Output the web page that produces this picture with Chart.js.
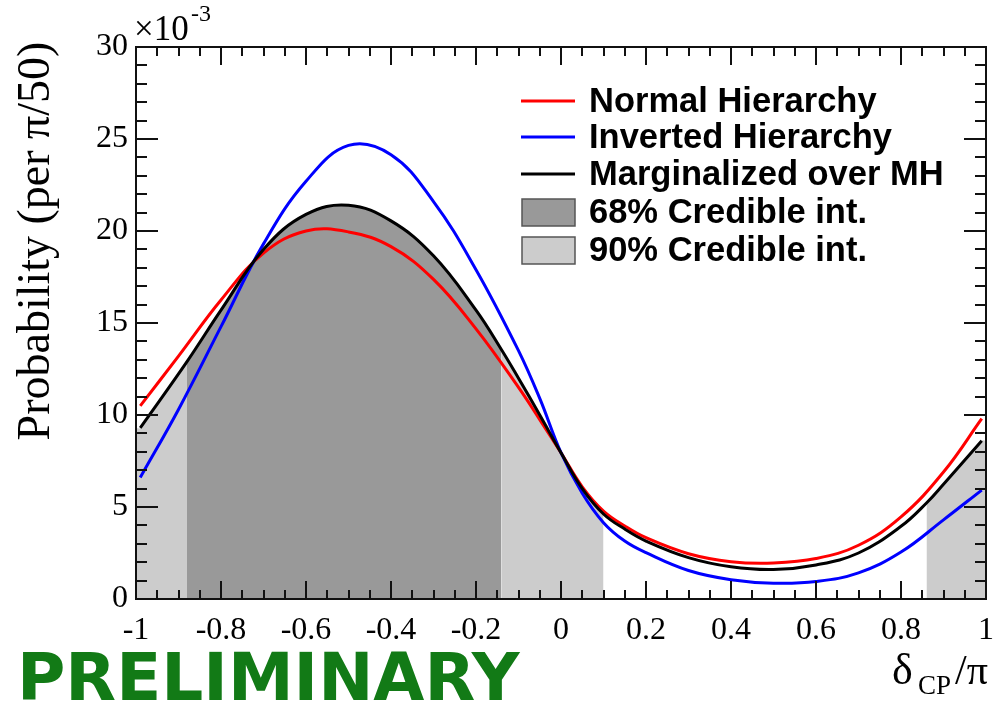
<!DOCTYPE html>
<html><head><meta charset="utf-8">
<script src="https://cdn.jsdelivr.net/npm/chart.js@4.4.0/dist/chart.umd.min.js"></script>
<style>html,body{margin:0;padding:0;background:#fff;} #wrap{width:1006px;height:708px;position:relative;}</style>
</head><body><div id="wrap"><canvas id="c" width="1006" height="708"></canvas></div>
<script>
// Probability (per pi/50), in units of 1e-3
const nhX = [-0.99,-0.9,-0.8,-0.7,-0.6,-0.5,-0.4,-0.3,-0.2,-0.1,-0.05,0,0.05,0.1,0.15,0.2,0.3,0.4,0.5,0.6,0.7,0.8,0.9,0.99];
const nhY = [10.5,13.2,16.25,18.8,20.0,19.95,19.15,17.37,14.68,11.5,9.75,7.95,6.1,4.78,3.97,3.33,2.46,2.03,1.96,2.2,2.92,4.46,6.9,9.8];
const ihX = [-0.99,-0.9,-0.8,-0.7,-0.6,-0.5,-0.4,-0.3,-0.2,-0.1,-0.05,0,0.05,0.1,0.15,0.2,0.3,0.4,0.5,0.6,0.7,0.8,0.9,0.99];
const ihY = [6.6,10.3,14.8,19.3,22.7,24.65,24.15,21.6,17.9,13.5,10.9,7.95,5.75,4.15,3.15,2.52,1.55,1.05,0.86,0.95,1.42,2.55,4.3,5.92];
const mhX = [-0.99,-0.88,-0.8,-0.7,-0.6,-0.5,-0.4,-0.3,-0.2,-0.14,-0.1,-0.05,0,0.05,0.1,0.15,0.2,0.3,0.4,0.5,0.6,0.7,0.8,0.86,0.9,0.99];
const mhY = [9.3,12.9,15.7,19.0,20.9,21.4,20.55,18.65,15.7,13.55,12.0,10.0,7.95,6.0,4.62,3.8,3.15,2.25,1.75,1.6,1.85,2.5,3.95,5.22,6.24,8.6];
const cred68 = [[-0.88,-0.14]];
const cred90 = [[-1,-0.88],[-0.14,0.10],[0.86,1]];
const xTickValues = [-1,-0.8,-0.6,-0.4,-0.2,0,0.2,0.4,0.6,0.8,1];
const xTickLabels = ['-1','-0.8','-0.6','-0.4','-0.2','0','0.2','0.4','0.6','0.8','1'];
const yTickValues = [0,5,10,15,20,25,30];
const yTickLabels = ['0','5','10','15','20','25','30'];
const seriesLabels = ['Normal Hierarchy','Inverted Hierarchy','Marginalized over MH'];
const bandLabels = ['68% Credible int.','90% Credible int.'];

const pts = (xs, ys) => xs.map((x, i) => ({x: x, y: ys[i]}));
const mhPts = pts(mhX, mhY);
const DARK = '#999999', LIGHT = '#cccccc';
const inAny = (ranges, v) => ranges.some(r => v >= r[0] && v <= r[1]);
const bandColor = c => {
  const m = (c.p0.parsed.x + c.p1.parsed.x) / 2;
  if (inAny(cred68, m)) return DARK;
  if (inAny(cred90, m)) return LIGHT;
  return 'rgba(0,0,0,0)';
};
// band fill: the marginalized curve filled to zero, coloured by credible interval
const bandData = [{x: -1, y: mhY[0]}, ...mhPts, {x: 1, y: mhY[mhY.length - 1]}];
const lineDs = (lbl, data, col, ord) => ({
  label: lbl, data: data, borderColor: col, borderWidth: 3, pointRadius: 0,
  fill: false, tension: 0.4, order: ord
});

const datasets = [
  { data: bandData, borderColor: 'rgba(0,0,0,0)', borderWidth: 0, backgroundColor: 'rgba(0,0,0,0)',
    fill: 'origin', pointRadius: 0, tension: 0.4, order: 10,
    segment: { backgroundColor: bandColor, borderColor: () => 'rgba(0,0,0,0)' } },
  lineDs(seriesLabels[0], pts(nhX, nhY), '#ff0000', 3),
  lineDs(seriesLabels[1], pts(ihX, ihY), '#0000ff', 2),
  lineDs(seriesLabels[2], mhPts, '#000000', 1)
];

const frameTicks = {
  id: 'frameTicks',
  afterDatasetsDraw(chart) {
    const {ctx, chartArea: a, scales: {x, y}} = chart;
    ctx.save();
    ctx.strokeStyle = '#111'; ctx.lineWidth = 2;
    const ln = (x1, y1, x2, y2) => { ctx.beginPath(); ctx.moveTo(x1, y1); ctx.lineTo(x2, y2); ctx.stroke(); };
    for (let i = 0; i <= 40; i++) {
      const px = Math.round(x.getPixelForValue(-1 + i * 0.05));
      const L = (i % 4 === 0) ? 18 : 9;
      ln(px, a.bottom, px, a.bottom - L);
      ln(px, a.top, px, a.top + L);
    }
    for (let i = 0; i <= 30; i++) {
      const py = Math.round(y.getPixelForValue(i));
      const L = (i % 5 === 0) ? 22 : 11;
      ln(a.left, py, a.left + L, py);
      ln(a.right, py, a.right - L, py);
    }
    ctx.strokeRect(a.left, a.top, a.right - a.left, a.bottom - a.top);
    ctx.restore();
  },
  afterDraw(chart) {
    const {ctx} = chart;
    ctx.save();
    // legend
    const rows = [101, 137, 174, 212, 250];
    const cols = ['#ff0000', '#0000ff', '#000000'];
    ctx.font = 'bold 34.5px "Liberation Sans", Arial, sans-serif';
    ctx.textBaseline = 'middle'; ctx.textAlign = 'left';
    for (let i = 0; i < 3; i++) {
      ctx.strokeStyle = cols[i]; ctx.lineWidth = 3;
      ctx.beginPath(); ctx.moveTo(521, rows[i]); ctx.lineTo(575, rows[i]); ctx.stroke();
      ctx.fillStyle = '#000'; ctx.fillText(seriesLabels[i], 589, rows[i] + 1);
    }
    const bcols = [DARK, LIGHT];
    for (let i = 0; i < 2; i++) {
      const r = rows[3 + i];
      ctx.fillStyle = bcols[i]; ctx.fillRect(522, r - 13, 53, 27);
      ctx.strokeStyle = '#555'; ctx.lineWidth = 1.5; ctx.strokeRect(522, r - 13, 53, 27);
      ctx.fillStyle = '#000'; ctx.fillText(bandLabels[i], 589, r + 1);
    }
    // exponent
    ctx.fillStyle = '#000';
    ctx.textBaseline = 'alphabetic';
    ctx.font = '35px "Liberation Serif", "Times New Roman", serif';
    ctx.fillText('\u00d710', 134, 40);
    ctx.font = '24px "Liberation Serif", "Times New Roman", serif';
    ctx.fillText('-3', 191, 21);
    // y title
    ctx.save();
    ctx.translate(49, 241); ctx.rotate(-Math.PI / 2);
    ctx.textAlign = 'center';
    ctx.font = '46px "Liberation Serif", "Times New Roman", serif';
    ctx.fillText('Probability (per \u03c0/50)', 0, 0);
    ctx.restore();
    // x title
    ctx.textAlign = 'left';
    ctx.font = '44px "Liberation Serif", "Times New Roman", serif';
    ctx.fillText('\u03b4', 892, 684);
    ctx.font = '27px "Liberation Serif", "Times New Roman", serif';
    ctx.fillText('CP', 918, 694);
    ctx.font = '42px "Liberation Serif", "Times New Roman", serif';
    ctx.fillText('/\u03c0', 955, 684);
    // preliminary
    ctx.fillStyle = '#127a16';
    ctx.font = 'bold 66px "DejaVu Sans", sans-serif';
    ctx.fillText('PRELIMINARY', 17, 700);
    ctx.restore();
  }
};

new Chart(document.getElementById('c'), {
  type: 'line',
  data: { datasets: datasets },
  options: {
    responsive: false, animation: false, devicePixelRatio: 1,
    layout: { padding: { left: 0, right: 18, top: 47, bottom: 0 } },
    plugins: { legend: { display: false }, tooltip: { enabled: false } },
    scales: {
      x: {
        type: 'linear', min: -1, max: 1,
        afterFit: s => { s.height = 109; },
        afterBuildTicks: s => { s.ticks = xTickValues.map(v => ({value: v})); },
        grid: { display: false, drawTicks: false }, border: { display: false },
        ticks: { autoSkip: false, maxRotation: 0, padding: 12, color: '#000',
          font: { family: '"Liberation Serif", "Times New Roman", serif', size: 32 },
          callback: (v, i) => xTickLabels[i] }
      },
      y: {
        type: 'linear', min: 0, max: 30,
        afterFit: s => { s.width = 136; },
        afterBuildTicks: s => { s.ticks = yTickValues.map(v => ({value: v})); },
        grid: { display: false, drawTicks: false }, border: { display: false },
        ticks: { padding: 8, color: '#000',
          font: { family: '"Liberation Serif", "Times New Roman", serif', size: 32 },
          callback: (v, i) => yTickLabels[i] }
      }
    }
  },
  plugins: [frameTicks]
});
</script></body></html>
